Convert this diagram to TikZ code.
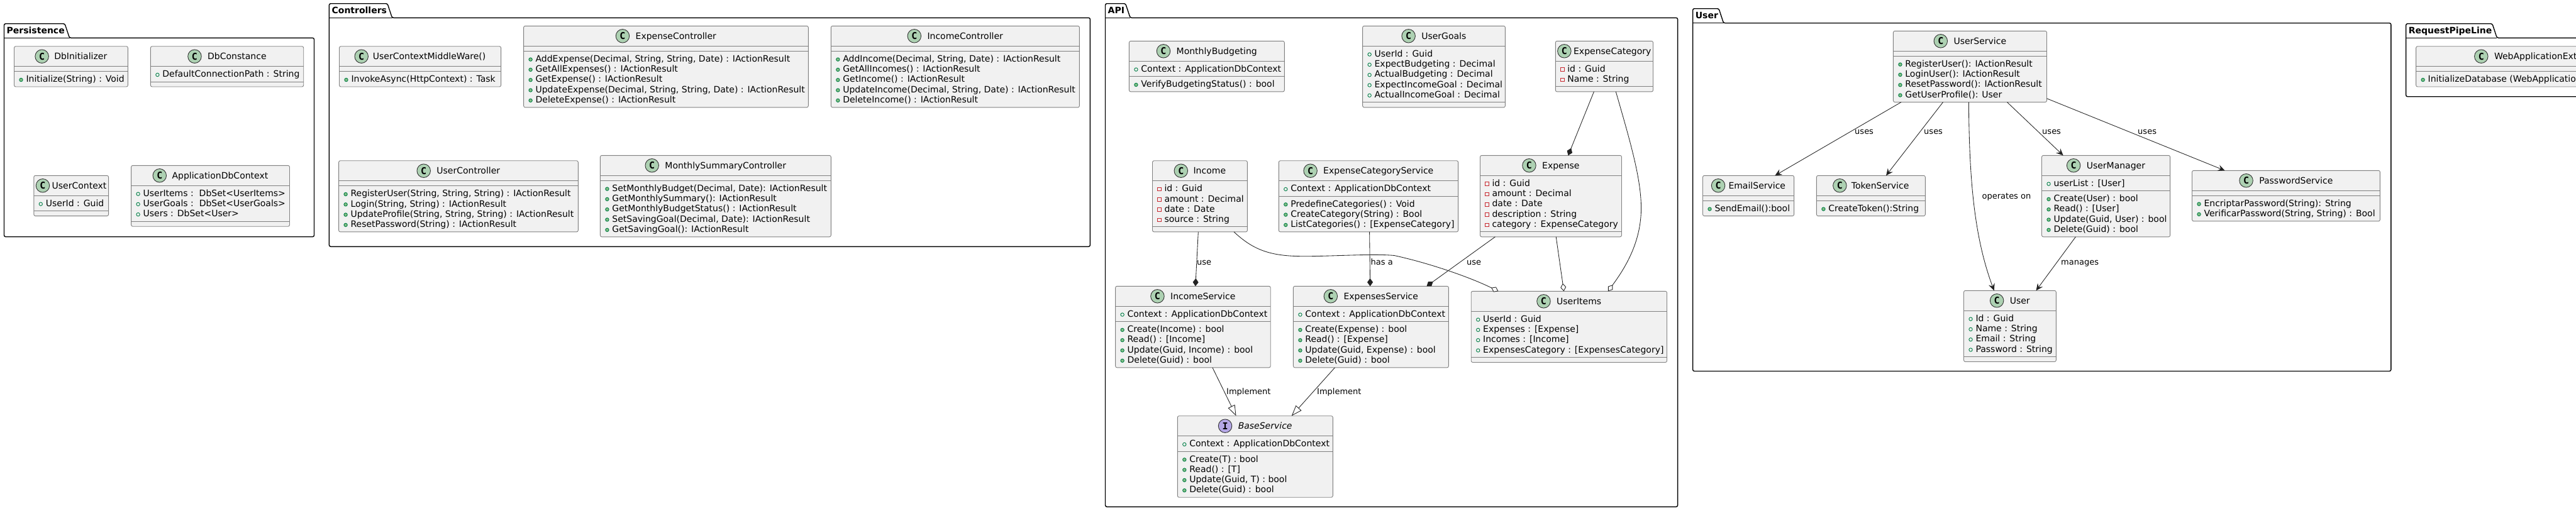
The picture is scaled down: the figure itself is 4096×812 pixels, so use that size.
\documentclass[tikz,border=0pt]{standalone}
\usepackage{fontspec}
\setmainfont{DejaVu Sans}
\newfontfamily\glyphfont{DejaVu Sans Mono}
\usetikzlibrary{arrows.meta}
\definecolor{boxfill}{HTML}{F1F1F1}
\definecolor{boxline}{HTML}{808080}
\definecolor{linkcol}{HTML}{222222}
\definecolor{clsC}{HTML}{ADD1B2}
\definecolor{clsI}{HTML}{B4A7E5}
\definecolor{publine}{HTML}{038048}
\definecolor{pubfill}{HTML}{84BE84}
\definecolor{privline}{HTML}{C82930}
\newcommand\txtf{\fontsize{14}{16}\selectfont}
\newcommand\lblf{\fontsize{13}{15}\selectfont}
\tikzset{
  classbox/.style={draw=boxline,fill=boxfill,line width=.9pt,rounded corners=2.5pt,inner sep=0pt,outer sep=0pt,anchor=north west},
  divider/.style={draw=boxline,line width=.9pt},
  rowtext/.style={font=\txtf,inner sep=0pt,outer sep=0pt,anchor=base west,text=black},
  titletext/.style={font=\txtf,inner sep=0pt,outer sep=0pt,anchor=base west,text=black},
  badge/.style={circle,draw=black!80,line width=.9pt,inner sep=0pt,minimum size=21.5pt,font=\glyphfont\bfseries\fontsize{15}{15}\selectfont},
  iconopen/.style={draw=publine,line width=.9pt},
  iconfill/.style={draw=publine,fill=pubfill,line width=.9pt},
  iconpriv/.style={draw=privline,line width=.9pt},
  pkgline/.style={draw=black,line width=1.4pt,rounded corners=2.5pt},
  pkgtitle/.style={font=\fontsize{14}{16}\selectfont\bfseries,inner sep=0pt,anchor=base west},
  linklabel/.style={font=\lblf,inner sep=0pt,anchor=base west},
  link/.style={draw=linkcol,line width=.85pt},
  usesarrow/.style={link,-{Stealth[length=11pt,width=10pt,inset=4pt]}},
  compose/.style={link,-{Diamond[length=12.5pt,width=9pt,fill=linkcol]}},
  aggreg/.style={link,-{Diamond[length=12.5pt,width=9pt,open,fill=white]}},
  implements/.style={link,-{Triangle[length=17pt,width=12pt,open,fill=white]}},
}
\newcount\uc
\newdimen\titlew
\newbox\titlebox
\makeatletter
\newcommand\setTitleWidth{\edef\tw{\strip@pt\titlew}}
\makeatother
\def\countrow#1{\advance\uc by 1 }
\newcommand\placerow[2]{%
  \node[rowtext] (\cn-\the\uc) at (\txx,\ry) {#2};
  \advance\uc by 1
  \pgfmathsetmacro\ry{\ry+16.3}%
}
\def\drawao#1{\draw[iconopen] (\ixx,\ry-3.7) circle (2.7pt);\placerow{}{#1}}
\def\drawam#1{\draw[iconfill] (\ixx,\ry-3.7) circle (2.7pt);\placerow{}{#1}}
\def\drawap#1{\draw[iconpriv] (\ixx-2.8,\ry-6.5) rectangle (\ixx+2.8,\ry-0.9);\placerow{}{#1}}
% [kind] name x0 x1 top title attrs methods
\newcommand\cls[8][C]{%
  \def\cn{#2}%
  \let\ao\countrow\let\ap\countrow\let\am\countrow
  \uc=0 #7\edef\na{\the\uc}%
  \uc=0 #8\edef\nm{\the\uc}%
  \pgfmathsetmacro\bw{#4-#3}%
  \pgfmathsetmacro\bh{48+16.3*(\na+\nm)}%
  \node[classbox,minimum width=\bw pt,minimum height=\bh pt] (#2) at (#3,#5) {};
  \pgfmathsetmacro\dva{#5+32}%
  \pgfmathsetmacro\dvb{#5+40+16.3*\na}%
  \draw[divider] (#3,\dva) -- (#4,\dva);
  \draw[divider] (#3,\dvb) -- (#4,\dvb);
  \setbox\titlebox=\hbox{\pgfinterruptpicture\txtf\ifx#1I\itshape\fi #6\endpgfinterruptpicture}%
  \titlew=\wd\titlebox \setTitleWidth
  \pgfmathsetmacro\supp{\bw-22-\tw}%
  \pgfmathsetmacro\gapp{min(9.7,3+0.075*\supp)}%
  \pgfmathsetmacro\cxx{#3+(\supp-\gapp)/2+11}%
  \pgfmathsetmacro\txq{\cxx+11+\gapp}%
  \pgfmathsetmacro\hy{#5+21}%
  \pgfmathsetmacro\cyy{#5+16}%
  \ifx#1I%
    \node[badge,fill=clsI] (#2-badge) at (\cxx,\cyy) {I};
    \node[titletext] (#2-title) at (\txq,\hy) {\itshape #6};
  \else
    \node[badge,fill=clsC] (#2-badge) at (\cxx,\cyy) {C};
    \node[titletext] (#2-title) at (\txq,\hy) {#6};
  \fi
  \pgfmathsetmacro\ixx{#3+11}%
  \pgfmathsetmacro\txx{#3+19}%
  \let\ao\drawao\let\ap\drawap\let\am\drawam
  \uc=0
  \pgfmathsetmacro\ry{#5+32+17}%
  #7%
  \pgfmathsetmacro\ry{#5+40+16.3*\na+17}%
  #8%
}
% name x0 x1 frametop framebottom tabtop tabright label
\newcommand\pkg[8]{%
  \pgfmathsetmacro\tbx{#7+7.5}%
  \pgfmathsetmacro\tby{#4-7}%
  \pgfmathsetmacro\txb{#2+4}%
  \draw[pkgline] (#2,#4) -- (#2,#6) -- (#7,#6) -- (\tbx,#4) -- (#3,#4) -- (#3,#5) -- (#2,#5) -- cycle;
  \draw[draw=black,line width=1.4pt] (#2,#4) -- (\tbx,#4);
  \node[pkgtitle] (#1) at (\txb,\tby) {#8};
}
\begin{document}
\begin{tikzpicture}[x=1pt,y=-1pt]
\useasboundingbox (0,0) rectangle (4096,812);
\clip (0,0) rectangle (4096,812);

\pkg{pkgPersistence}{6.5}{499.5}{60.3}{376.7}{37.7}{103}{Persistence}
\pkg{pkgControllers}{523.4}{1733.4}{28.3}{392.3}{5.7}{616}{Controllers}
\pkg{pkgAPI}{1757.5}{2667.6}{28.3}{806.3}{5.7}{1789.6}{API}
\pkg{pkgUser}{2691.6}{3801.8}{36.7}{590.5}{13.7}{2733}{User}
\pkg{pkgPipe}{3825.6}{4260}{60.3}{153.7}{37.7}{3962.8}{RequestPipeLine}

% Persistence
\cls{DbInitializer}{22.5}{203.4}{73.7}{DbInitializer}{}{\am{Initialize(String) : Void}}
\cls{DbConstance}{239.4}{482.7}{73.7}{DbConstance}{\ao{DefaultConnectionPath : String}}{}
\cls{PUserContext}{53.8}{172.6}{279.3}{UserContext}{\ao{UserId : Guid}}{}
\cls{ApplicationDbContext}{208.6}{460.5}{263.3}{ApplicationDbContext}{\ao{UserItems :\ \ DbSet<UserItems>}\ao{UserGoals :\ \ DbSet<UserGoals>}\ao{Users : DbSet<User>}}{}

% Controllers
\cls{UserContextMiddleWare}{539.5}{796.6}{73.7}{UserContextMiddleWare()}{}{\am{InvokeAsync(HttpContext) : Task}}
\cls{ExpenseController}{832.6}{1285.3}{41.3}{ExpenseController}{}{\am{AddExpense(Decimal, String, String, Date) : IActionResult}\am{GetAllExpenses() : IActionResult}\am{GetExpense() : IActionResult}\am{UpdateExpense(Decimal, String, String, Date) : IActionResult}\am{DeleteExpense() : IActionResult}}
\cls{IncomeController}{1321.3}{1716.4}{41.3}{IncomeController}{}{\am{AddIncome(Decimal, String, Date) : IActionResult}\am{GetAllIncomes() : IActionResult}\am{GetIncome() : IActionResult}\am{UpdateIncome(Decimal, String, Date) : IActionResult}\am{DeleteIncome() : IActionResult}}
\cls{UserController}{538.6}{919.3}{255.7}{UserController}{}{\am{RegisterUser(String, String, String) : IActionResult}\am{Login(String, String) : IActionResult}\am{UpdateProfile(String, String, String) : IActionResult}\am{ResetPassword(String) : IActionResult}}
\cls{MonthlySummaryController}{954.4}{1321.3}{247.3}{MonthlySummaryController}{}{\am{SetMonthlyBudget(Decimal, Date): IActionResult}\am{GetMonthlySummary(): IActionResult}\am{GetMonthlyBudgetStatus() : IActionResult}\am{SetSavingGoal(Decimal, Date): IActionResult}\am{GetSavingGoal(): IActionResult}}

% API
\cls{MonthlyBudgeting}{1795.4}{2042.3}{65.3}{MonthlyBudgeting}{\ao{Context : ApplicationDbContext}}{\am{VerifyBudgetingStatus() : bool}}
\cls{UserGoals}{2166.6}{2393.4}{41.3}{UserGoals}{\ao{UserId : Guid}\ao{ExpectBudgeting : Decimal}\ao{ActualBudgeting : Decimal}\ao{ExpectIncomeGoal : Decimal}\ao{ActualIncomeGoal : Decimal}}{}
\cls{ExpenseCategory}{2473.3}{2628.5}{65.3}{ExpenseCategory}{\ap{id : Guid}\ap{Name : String}}{}
\cls{Income}{1832.5}{1983.4}{255.7}{Income}{\ap{id : Guid}\ap{amount : Decimal}\ap{date : Date}\ap{source : String}}{}
\cls{ExpenseCategoryService}{2033.3}{2318.6}{255.7}{ExpenseCategoryService}{\ao{Context : ApplicationDbContext}}{\am{PredefineCategories() : Void}\am{CreateCategory(String) : Bool}\am{ListCategories() : [ExpenseCategory]}}
\cls{Expense}{2353.5}{2578.5}{247.3}{Expense}{\ap{id : Guid}\ap{amount : Decimal}\ap{date : Date}\ap{description : String}\ap{category : ExpenseCategory}}{}
\cls{IncomeService}{1773.6}{2020.2}{455.3}{IncomeService}{\ao{Context : ApplicationDbContext}}{\am{Create(Income) : bool}\am{Read() : [Income]}\am{Update(Guid, Income) : bool}\am{Delete(Guid) : bool}}
\cls{ExpensesService}{2056.4}{2303.4}{455.3}{ExpensesService}{\ao{Context : ApplicationDbContext}}{\am{Create(Expense) : bool}\am{Read() : [Expense]}\am{Update(Guid, Expense) : bool}\am{Delete(Guid) : bool}}
\cls{UserItems}{2339.2}{2650.5}{463.3}{UserItems}{\ao{UserId : Guid}\ao{Expenses : [Expense]}\ao{Incomes : [Income]}\ao{ExpensesCategory : [ExpensesCategory]}}{}
\cls[I]{BaseService}{1872.3}{2119.3}{661.7}{BaseService}{\ao{Context : ApplicationDbContext}}{\am{Create(T) : bool}\am{Read() : [T]}\am{Update(Guid, T) : bool}\am{Delete(Guid) : bool}}

% User
\cls{UserService}{3010.4}{3254.5}{49.3}{UserService}{}{\am{RegisterUser(): IActionResult}\am{LoginUser(): IActionResult}\am{ResetPassword(): IActionResult}\am{GetUserProfile(): User}}
\cls{EmailService}{2707.5}{2852.6}{279.3}{EmailService}{}{\am{SendEmail():bool}}
\cls{TokenService}{2888.4}{3061.3}{279.3}{TokenService}{}{\am{CreateToken():String}}
\cls{UserManager}{3246.5}{3450.6}{247.3}{UserManager}{\ao{userList : [User]}}{\am{Create(User) : bool}\am{Read() : [User]}\am{Update(Guid, User) : bool}\am{Delete(Guid) : bool}}
\cls{PasswordService}{3485.5}{3784.4}{271.3}{PasswordService}{}{\am{EncriptarPassword(String): String}\am{VerificarPassword(String, String) : Bool}}
\cls{User}{3122.5}{3269.3}{462.3}{User}{\ao{Id : Guid}\ao{Name : String}\ao{Email : String}\ao{Password : String}}{}

% RequestPipeLine (runs past the page edge)
\cls{WebApplicationExt}{3841.6}{4190}{73.7}{WebApplicationExt}{}{\am{InitializeDatabase (WebApplicatio}}

% Connectors
\draw[compose] (1905.3,0 |- Income.south) -- (1900.8,0 |- IncomeService.north);
\node[linklabel] (lUse1) at (1903,421) {use};
\draw[compose] (2177.6,0 |- ExpenseCategoryService.south) -- (2178.6,0 |- ExpensesService.north);
\node[linklabel] (lHas) at (2179.5,421) {has a};
\draw[compose] (2377.4,0 |- Expense.south) -- (2268.5,0 |- ExpensesService.north);
\node[linklabel] (lUse2) at (2332,421) {use};
\draw[aggreg] (2474.2,0 |- Expense.south) -- (2486.6,0 |- UserItems.north);
\draw[compose] (2534.4,0 |- ExpenseCategory.south) -- (2493.5,0 |- Expense.north);
\draw[aggreg] (2569.3,0 |- ExpenseCategory.south) .. controls (2592,225) and (2610,285) .. (2609.5,333) .. controls (2609,385) and (2585,425) .. (2556.9,0 |- UserItems.north);
\draw[aggreg] (1962,0 |- Income.south) .. controls (1990,395) and (2015,406) .. (2060,407.5) .. controls (2100,409) and (2180,403) .. (2217,406.5) .. controls (2270,418) and (2335,440) .. (2382.4,0 |- UserItems.north);
\draw[implements] (1927.9,0 |- IncomeService.south) -- (1965.5,0 |- BaseService.north);
\node[linklabel] (lImpl1) at (1950,627) {Implement};
\draw[implements] (2122.5,0 |- ExpensesService.south) -- (2053.7,0 |- BaseService.north);
\node[linklabel] (lImpl2) at (2094,627) {Implement};

\draw[usesarrow] (3023,0 |- UserService.south) -- (2822.3,0 |- EmailService.north);
\node[linklabel] (lUses1) at (2949,213) {uses};
\draw[usesarrow] (3089.5,0 |- UserService.south) -- (2999,0 |- TokenService.north);
\node[linklabel] (lUses2) at (3059,213) {uses};
\draw[usesarrow] (3130.4,0 |- UserService.south) .. controls (3131,290) and (3140,380) .. (3170.7,0 |- User.north);
\node[linklabel] (lOps) at (3151.4,316) {operates on};
\draw[usesarrow] (3191.4,0 |- UserService.south) -- (3280.6,0 |- UserManager.north);
\node[linklabel] (lUses3) at (3247,213) {uses};
\draw[usesarrow] (UserService.east |- 0,156.7) -- (3537.6,0 |- PasswordService.north);
\node[linklabel] (lUses4) at (3399,213) {uses};
\draw[usesarrow] (3300.4,0 |- UserManager.south) -- (3237.5,0 |- User.north);
\node[linklabel] (lMan) at (3277,421) {manages};
\end{tikzpicture}
\end{document}
